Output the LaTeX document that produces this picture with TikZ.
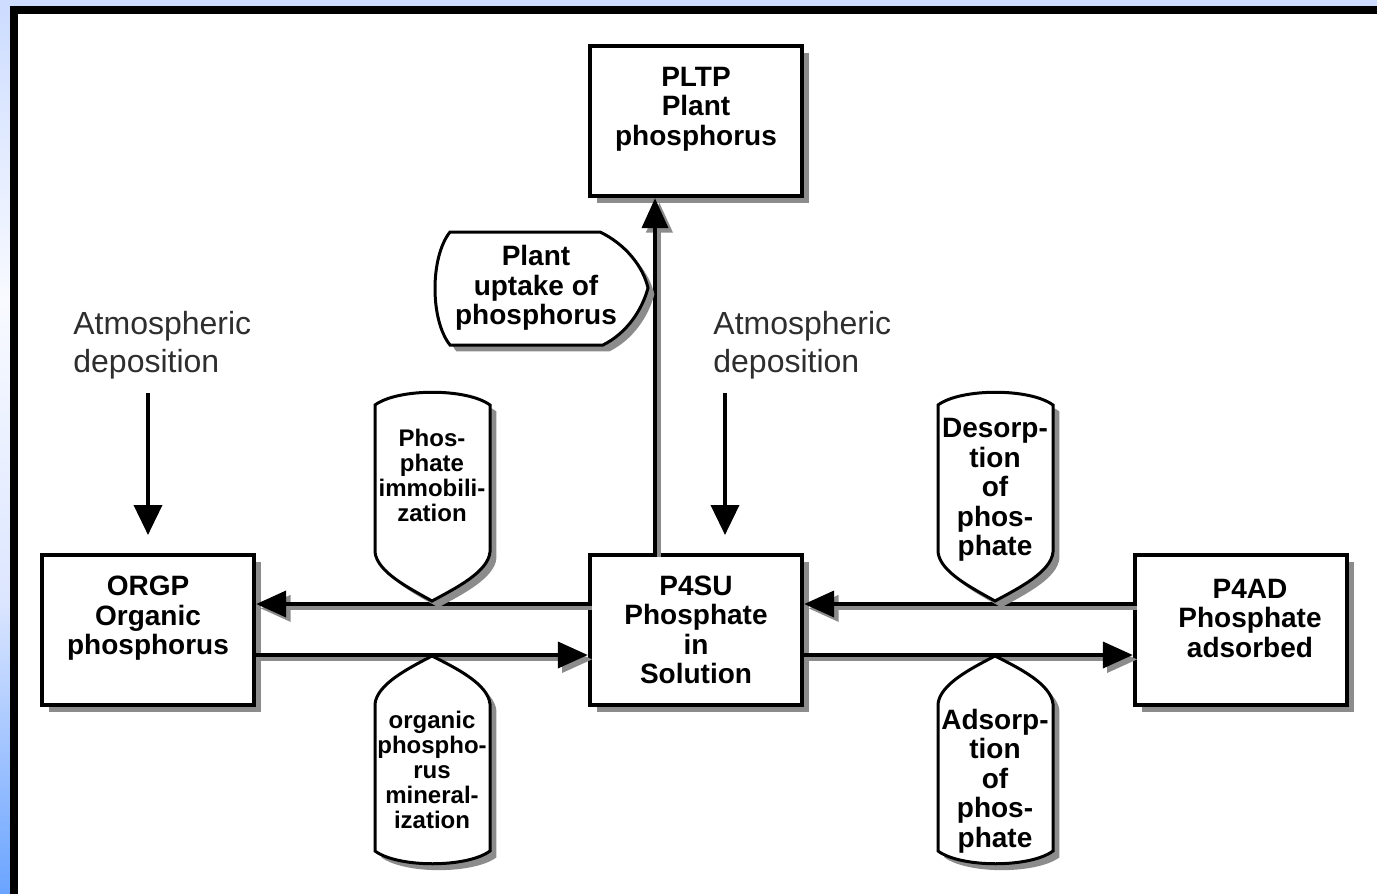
\documentclass[tikz,border=0pt]{standalone}
\usepackage{fontspec}
\setmainfont{Liberation Sans}
\usetikzlibrary{arrows.meta,shadows}
\definecolor{shd}{HTML}{8C8C8C}
\definecolor{bluetop}{HTML}{CDDCFF}
\definecolor{bluemid}{HTML}{F8FAFF}
\definecolor{bluelow}{HTML}{DCE6FF}
\definecolor{bluebot}{HTML}{6AA4FF}
\definecolor{atmgray}{HTML}{2E2E2E}
\begin{document}
\begin{tikzpicture}[x=0.5pt,y=-0.5pt,
  box/.style={draw=black,line width=2.2pt,fill=white,minimum width=106pt,minimum height=75pt,
    align=center,font=\bfseries\fontsize{14}{14.75}\selectfont,inner sep=0pt,
    drop shadow={shadow xshift=3.5pt,shadow yshift=-3.5pt,opacity=1,fill=shd}},
  valve/.style={draw=black,line width=1.5pt,fill=white,
    drop shadow={shadow xshift=3.2pt,shadow yshift=-3.2pt,opacity=1,fill=shd}},
  vtext/.style={align=center,font=\bfseries\fontsize{12}{12.5}\selectfont,inner sep=0pt},
  btext/.style={align=center,font=\bfseries\fontsize{14}{14.75}\selectfont,inner sep=0pt},
  atm/.style={align=left,font=\fontsize{16}{19}\selectfont,text=atmgray,inner sep=0pt,anchor=north west},
  flow/.style={line width=2pt,-{Triangle[length=15pt,width=13pt]}},
  flowshd/.style={line width=2pt,draw=shd,fill=shd,-{Triangle[length=15pt,width=13pt]}},
  fall/.style={line width=1.9pt,-{Triangle[length=15pt,width=14pt]}},
]
% frame / background
\useasboundingbox (0,0) rectangle (1377,894);
\fill[bluetop] (0,0) rectangle (1377,6);
\shade[top color=bluetop,bottom color=bluemid] (0,6) rectangle (10,300);
\shade[top color=bluemid,bottom color=bluelow] (0,299) rectangle (10,600);
\shade[top color=bluelow,bottom color=bluebot] (0,599) rectangle (10,894);
\fill[black] (10,6) rectangle (1377,894);
\fill[white] (18,14) rectangle (1377,894);

% boxes
\node[box] (orgp) at (148,630) {ORGP\\Organic\\phosphorus\\~};
\node[box] (p4su) at (696,630) {P4SU\\Phosphate\\in\\Solution};
\node[box] (p4ad) at (1241,630) {};
\node[btext] (p4adt) at (1250,618) {P4AD\\Phosphate\\adsorbed};
\node[box] (pltp) at (696,121) {PLTP\\Plant\\phosphorus\\~};

% helper coordinates
\coordinate (yup) at (0,604);
\coordinate (ylo) at (0,655);
\coordinate (vx) at (655,0);

% arrow shadows
\begin{scope}[transform canvas={shift={(2.2pt,-2.2pt)}}]
  \draw[flowshd] (p4su.west |- yup) -- (orgp.east |- yup);
  \draw[flowshd] (orgp.east |- ylo) -- (p4su.west |- ylo);
  \draw[flowshd] (p4ad.west |- yup) -- (p4su.east |- yup);
  \draw[flowshd] (p4su.east |- ylo) -- (p4ad.west |- ylo);
  \draw[flowshd] (p4su.north -| vx) -- (pltp.south -| vx);
\end{scope}

% flows
\draw[flow] (p4su.west |- yup) -- (orgp.east |- yup);
\draw[flow] (orgp.east |- ylo) -- (p4su.west |- ylo);
\draw[flow] (p4ad.west |- yup) -- (p4su.east |- yup);
\draw[flow] (p4su.east |- ylo) -- (p4ad.west |- ylo);
\draw[flow] (p4su.north -| vx) -- (pltp.south -| vx);

% valves
\draw[valve] (450,232) -- (600,232) .. controls (625,244) and (643,266) .. (648,288)
  .. controls (642,310) and (627,333) .. (603,345) -- (450,345)
  .. controls (430,320) and (430,257) .. (450,232) -- cycle;
\node[btext] (upt) at (536,288) {Plant\\uptake of\\phosphorus};

\draw[valve] (375,405) .. controls (398,388) and (467,388) .. (490,405) -- (490,552)
  .. controls (488,572) and (456,588) .. (432,601)
  .. controls (409,588) and (377,572) .. (375,552) -- cycle;
\node[vtext] (imm) at (432,475) {Phos-\\phate\\immobili-\\zation};

\draw[valve] (375,851) .. controls (398,868) and (467,868) .. (490,851) -- (490,704)
  .. controls (488,684) and (456,668) .. (432,656)
  .. controls (409,668) and (377,684) .. (375,704) -- cycle;
\node[vtext] (min) at (432,770) {organic\\phospho-\\rus\\mineral-\\ization};

\draw[valve] (938,405) .. controls (961,388) and (1030,388) .. (1053,405) -- (1053,552)
  .. controls (1051,572) and (1019,588) .. (995,601)
  .. controls (972,588) and (940,572) .. (938,552) -- cycle;
\node[btext] (des) at (995,490) {Desorp-\\tion\\of\\phos-\\phate};

\draw[valve] (938,851) .. controls (961,868) and (1030,868) .. (1053,851) -- (1053,704)
  .. controls (1051,684) and (1019,668) .. (995,656)
  .. controls (972,668) and (940,684) .. (938,704) -- cycle;
\node[btext] (ads) at (995,781) {Adsorp-\\tion\\of\\phos-\\phate};

% atmospheric deposition
\node[atm] (atm1) at (73,311) {Atmospheric\\deposition};
\node[atm] (atm2) at (713,311) {Atmospheric\\deposition};
\coordinate (a1s) at (148,393);
\coordinate (a1e) at (148,535);
\coordinate (a2s) at (725,393);
\coordinate (a2e) at (725,535);
\draw[fall] (a1s) -- (a1e);
\draw[fall] (a2s) -- (a2e);
\end{tikzpicture}
\end{document}
